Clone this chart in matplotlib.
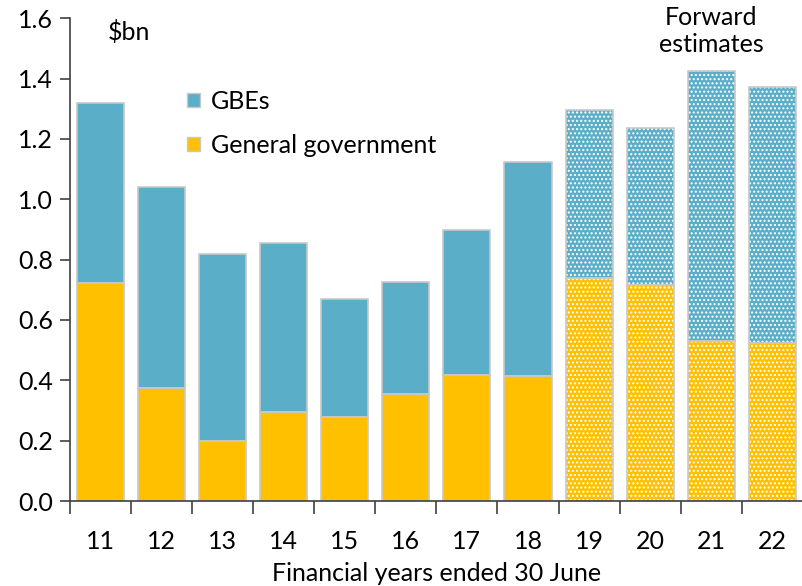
import numpy as np
import matplotlib
matplotlib.use('Agg')
import matplotlib.pyplot as plt
from matplotlib.patches import Patch

plt.rcParams['font.family'] = ['Lato', 'DejaVu Sans']
plt.rcParams['hatch.linewidth'] = 1.0

years = ['11', '12', '13', '14', '15', '16', '17', '18', '19', '20', '21', '22']
general_gov = [0.722, 0.374, 0.199, 0.295, 0.278, 0.354, 0.417, 0.414, 0.739, 0.715, 0.530, 0.523]
total = [1.318, 1.040, 0.818, 0.855, 0.669, 0.725, 0.898, 1.123, 1.295, 1.236, 1.424, 1.371]
gbes = [t - g for t, g in zip(total, general_gov)]
forward = [False] * 8 + [True] * 4

BLUE = '#5aaec8'
GOLD = '#ffc000'
EDGE = '#c8c8c8'
FS = 18

fig = plt.figure(figsize=(8.03, 5.86), dpi=100)
ax = fig.add_axes([0.0867, 0.145, 0.9133, 0.824])

x = np.arange(len(years))
w = 0.77

for i in range(len(years)):
    if forward[i]:
        ax.bar(x[i], general_gov[i], w, color=GOLD, edgecolor='white', hatch='....', linewidth=0)
        ax.bar(x[i], gbes[i], w, bottom=general_gov[i], color=BLUE, edgecolor='white', hatch='....', linewidth=0)
    else:
        ax.bar(x[i], general_gov[i], w, color=GOLD, linewidth=0)
        ax.bar(x[i], gbes[i], w, bottom=general_gov[i], color=BLUE, linewidth=0)
    # grey outlines drawn separately so the hatch can stay white
    ax.bar(x[i], general_gov[i], w, fill=False, edgecolor=EDGE, linewidth=1.2)
    ax.bar(x[i], gbes[i], w, bottom=general_gov[i], fill=False, edgecolor=EDGE, linewidth=1.2)

ax.set_ylim(0, 1.6)
ax.set_xlim(-0.5, 11.445)
yt = np.arange(0, 1.61, 0.2)
ax.set_yticks(yt)
ax.set_yticklabels(['%.1f' % v for v in yt], fontsize=FS)
ax.set_xticks(x)
ax.set_xticklabels(years, fontsize=FS)
ax.set_xticks(np.arange(-0.5, 12, 1), minor=True)
ax.tick_params(axis='x', which='major', length=0, pad=21)
ax.tick_params(axis='x', which='minor', length=9, width=1.2, color='#404040')
ax.tick_params(axis='y', length=7, width=1.2, color='#404040', pad=5)
for s in ['top', 'right']:
    ax.spines[s].set_visible(False)
for s in ['left', 'bottom']:
    ax.spines[s].set_color('#404040')
    ax.spines[s].set_linewidth(1.2)

ax.set_xlabel('Financial years ended 30 June', fontsize=FS, labelpad=6)

ax.text(0.13, 1.595, '$bn', fontsize=FS, va='top', ha='left')
ax.text(10.0, 1.64, 'Forward\nestimates', fontsize=FS, va='top', ha='center', linespacing=1.22)

handles = [Patch(facecolor=BLUE, edgecolor=EDGE), Patch(facecolor=GOLD, edgecolor=EDGE)]
ax.legend(handles, ['GBEs', 'General government'], loc='upper left',
          bbox_to_anchor=(0.13, 0.898), frameon=False, fontsize=FS,
          handlelength=0.5, handleheight=0.5, handletextpad=0.45, labelspacing=0.85)

fig.savefig('out.png', dpi=100)
